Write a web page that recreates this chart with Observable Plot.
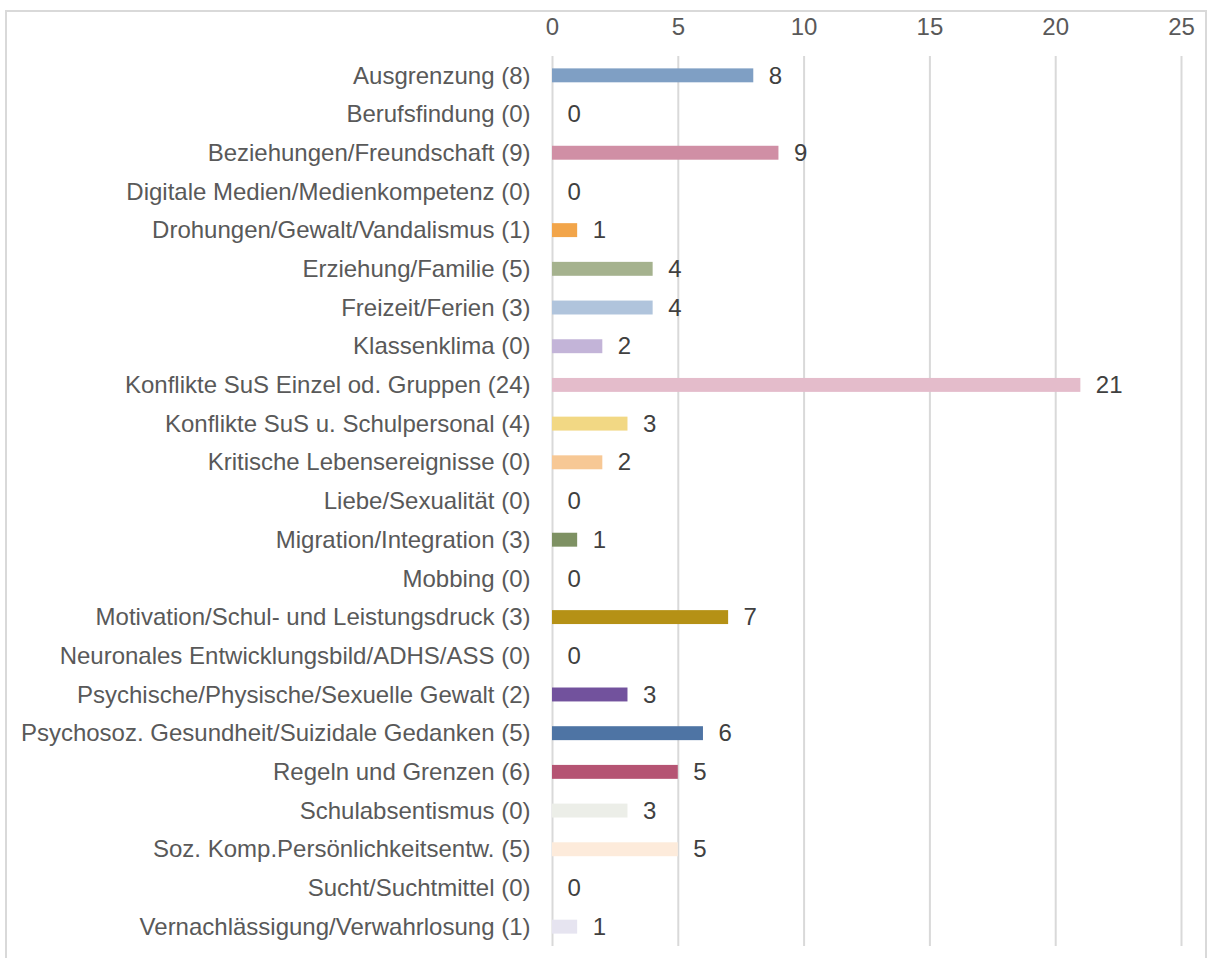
<!DOCTYPE html>
<html>
<head>
<meta charset="utf-8">
<script src="https://cdn.jsdelivr.net/npm/d3@7"></script>
<script src="https://cdn.jsdelivr.net/npm/@observablehq/plot@0.6"></script>
<style>
  html, body { margin: 0; padding: 0; background: #fff; }
  #wrap { position: relative; width: 1210px; height: 958px; overflow: hidden; }
  #border { position: absolute; left: 5px; top: 10px; width: 1202px; height: 1000px; border: 2px solid #d9d9d9; box-sizing: border-box; }
  #chart { position: absolute; left: 0; top: 0; }
</style>
</head>
<body>
<div id="wrap"><div id="border"></div><div id="chart"></div></div>
<script>
const categories = [
  "Ausgrenzung (8)",
  "Berufsfindung (0)",
  "Beziehungen/Freundschaft (9)",
  "Digitale Medien/Medienkompetenz (0)",
  "Drohungen/Gewalt/Vandalismus (1)",
  "Erziehung/Familie (5)",
  "Freizeit/Ferien (3)",
  "Klassenklima (0)",
  "Konflikte SuS Einzel od. Gruppen (24)",
  "Konflikte SuS u. Schulpersonal (4)",
  "Kritische Lebensereignisse (0)",
  "Liebe/Sexualität (0)",
  "Migration/Integration (3)",
  "Mobbing (0)",
  "Motivation/Schul- und Leistungsdruck (3)",
  "Neuronales Entwicklungsbild/ADHS/ASS (0)",
  "Psychische/Physische/Sexuelle Gewalt (2)",
  "Psychosoz. Gesundheit/Suizidale Gedanken (5)",
  "Regeln und Grenzen (6)",
  "Schulabsentismus (0)",
  "Soz. Komp.Persönlichkeitsentw. (5)",
  "Sucht/Suchtmittel (0)",
  "Vernachlässigung/Verwahrlosung (1)"
];
const values = [8, 0, 9, 0, 1, 4, 4, 2, 21, 3, 2, 0, 1, 0, 7, 0, 3, 6, 5, 3, 5, 0, 1];
const colors = [
  "#7f9fc4", "#cccccc", "#d08fa5", "#cccccc", "#f2a54a", "#a5b28e", "#b0c4dc", "#c3b4d8",
  "#e4bccb", "#f2d884", "#f7c895", "#cccccc", "#7e9163", "#cccccc", "#b59115", "#cccccc",
  "#72529d", "#4e74a4", "#b55473", "#eceee8", "#fdebdb", "#cccccc", "#e6e4f0"
];
const xTicks = [0, 5, 10, 15, 20, 25];

const data = categories.map((c, i) => ({category: c, value: values[i], color: colors[i]}));

const chart = Plot.plot({
  width: 1210,
  height: 958,
  marginLeft: 552,
  marginRight: 29,
  marginTop: 56,
  marginBottom: 12,
  style: {fontFamily: "'Liberation Sans', Arial, sans-serif", background: "transparent"},
  x: {domain: [0, 25], ticks: xTicks},
  y: {domain: categories, paddingInner: 0.64, paddingOuter: 0.32, align: 0.5, round: false},
  marks: [
    Plot.gridX(xTicks, {stroke: "#d9d9d9", strokeOpacity: 1, strokeWidth: 2}),
    Plot.axisX(xTicks, {anchor: "top", tickSize: 0, tickPadding: 22, fontSize: 24, fill: "#595959", label: null}),
    Plot.axisY({anchor: "left", tickSize: 0, tickPadding: 22, fontSize: 24, fill: "#595959", label: null}),
    Plot.barX(data, {y: "category", x: "value", fill: "color"}),
    Plot.text(data, {y: "category", x: "value", text: d => String(d.value), textAnchor: "start", dx: 15, fontSize: 24, fill: "#404040"})
  ]
});
document.getElementById("chart").appendChild(chart);
</script>
</body>
</html>
